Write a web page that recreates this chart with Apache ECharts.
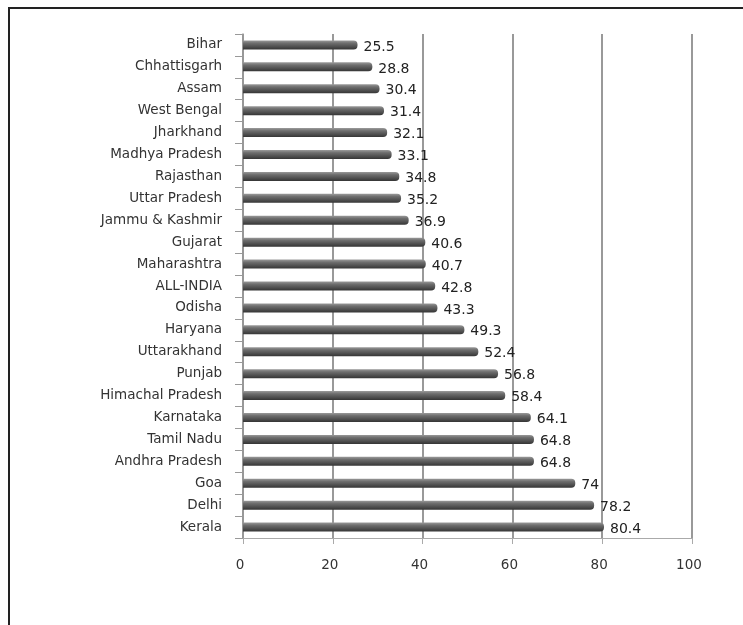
<!DOCTYPE html>
<html>
<head>
<meta charset="utf-8">
<script src="https://cdn.jsdelivr.net/npm/echarts@6/dist/echarts.min.js"></script>
<style>
    html, body { margin: 0; padding: 0; background: #fff; }
    #frame {
        position: absolute;
        left: 8px;
        top: 7px;
        width: 740px;
        height: 625px;
        border-top: 2px solid #222;
        border-left: 2px solid #222;
    }
    #chart { position: absolute; left: 0; top: 0; width: 743px; height: 625px; }
</style>
</head>
<body>
<div id="frame"></div>
<div id="chart"></div>
<script>
    var states = ['Bihar', 'Chhattisgarh', 'Assam', 'West Bengal', 'Jharkhand', 'Madhya Pradesh',
        'Rajasthan', 'Uttar Pradesh', 'Jammu & Kashmir', 'Gujarat', 'Maharashtra', 'ALL-INDIA',
        'Odisha', 'Haryana', 'Uttarakhand', 'Punjab', 'Himachal Pradesh', 'Karnataka',
        'Tamil Nadu', 'Andhra Pradesh', 'Goa', 'Delhi', 'Kerala'];
    var values = [25.5, 28.8, 30.4, 31.4, 32.1, 33.1, 34.8, 35.2, 36.9, 40.6, 40.7, 42.8,
        43.3, 49.3, 52.4, 56.8, 58.4, 64.1, 64.8, 64.8, 74, 78.2, 80.4];
    var xTicks = [0, 20, 40, 60, 80, 100];

    var font = 'DejaVu Sans';
    var chart = echarts.init(document.getElementById('chart'));

    var option = {
        animation: false,
        grid: {
            left: 243,
            right: 51,
            top: 34,
            bottom: 87
        },
        xAxis: {
            type: 'value',
            min: xTicks[0],
            max: xTicks[xTicks.length - 1],
            interval: 20,
            axisLine: { show: true, lineStyle: { color: '#aaa', width: 1 } },
            axisTick: { show: true, length: 6, lineStyle: { color: '#aaa' } },
            axisLabel: {
                margin: 20,
                color: '#333',
                fontFamily: font,
                fontSize: 13.5,
                padding: [0, 6, 0, 0]
            },
            splitLine: { show: true, lineStyle: { color: '#999', width: 2 } }
        },
        yAxis: {
            type: 'category',
            inverse: true,
            data: states,
            axisLine: { show: true, lineStyle: { color: '#999', width: 1.5 } },
            axisTick: { show: true, length: 8, lineStyle: { color: '#999' } },
            axisLabel: {
                margin: 21,
                color: '#333',
                fontFamily: font,
                fontSize: 13.5
            }
        },
        series: [
            {
                type: 'bar',
                data: values,
                barWidth: 9,
                itemStyle: {
                    color: new echarts.graphic.LinearGradient(0, 0, 0, 1, [
                        { offset: 0, color: '#9a9a9a' },
                        { offset: 0.3, color: '#6e6e6e' },
                        { offset: 0.7, color: '#4e4e4e' },
                        { offset: 1, color: '#353535' }
                    ]),
                    borderRadius: [0, 4, 4, 0]
                },
                label: {
                    show: true,
                    position: 'right',
                    distance: 6,
                    offset: [0, 2],
                    color: '#222',
                    fontFamily: font,
                    fontSize: 14
                }
            }
        ]
    };
    chart.setOption(option);
</script>
</body>
</html>
